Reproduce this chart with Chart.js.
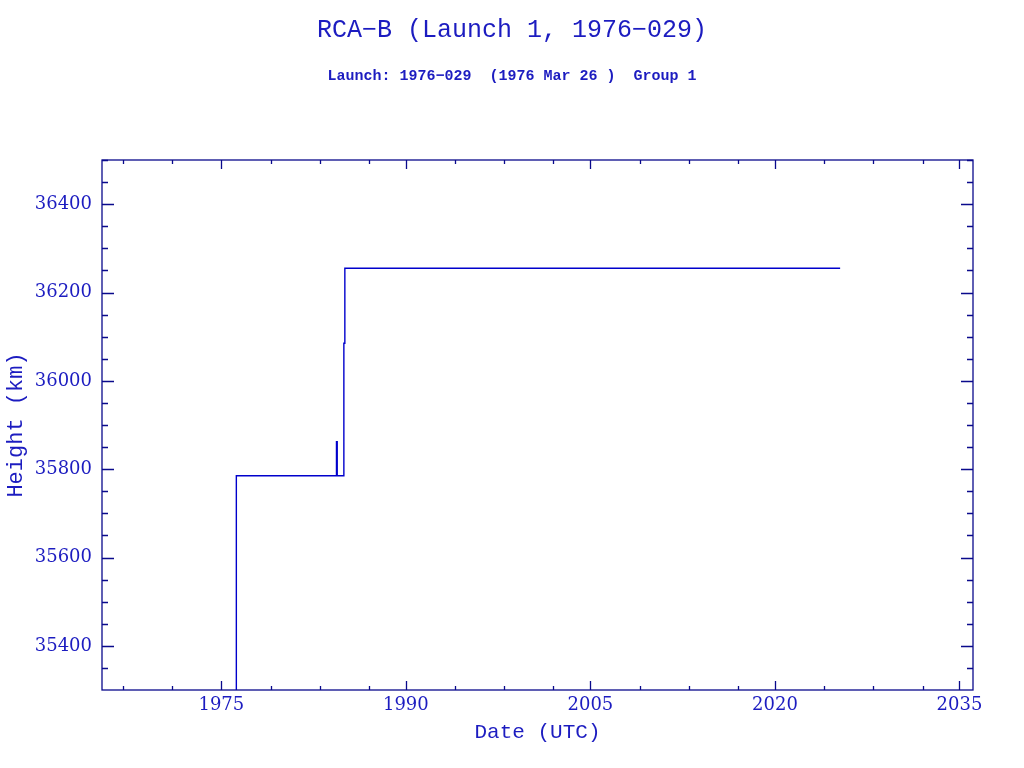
<!DOCTYPE html>
<html>
<head>
<meta charset="utf-8">
<script src="https://cdn.jsdelivr.net/npm/chart.js@4"></script>
<style>
  body { margin: 0; background: #fff; }
  #wrap { width: 1024px; height: 768px; }
</style>
</head>
<body>
<div id="wrap"><canvas id="grafico" width="1024" height="768"></canvas></div>
<script>
// Datos (fecha en años decimales, altura en km)
var fechas  = [1976.22, 1976.22, 1984.36, 1984.36, 1984.42, 1984.42, 1984.96, 1984.96, 1985.04, 1985.04, 2025.3];
var alturas = [35000,   35785,   35785,   35862,   35862,   35785,   35785,   36085,   36085,   36255,   36255];

// Marcas de los ejes
var ticksX = [1975, 1990, 2005, 2020, 2035];
var menoresX = [1967, 1971, 1979, 1983, 1987, 1994, 1998, 2002, 2009, 2013, 2017, 2024, 2028, 2032];
var ticksY = [35400, 35600, 35800, 36000, 36200, 36400];
var menoresY = [35300, 35350, 35450, 35500, 35550, 35650, 35700, 35750, 35850, 35900, 35950,
                36050, 36100, 36150, 36250, 36300, 36350, 36450, 36500];

var colorEje = "#0a0a8c";
var colorTexto = "#1c1cc0";
var colorLinea = "#0000cc";

var puntos = fechas.map(function(f, i) { return { x: f, y: alturas[i] }; });

// Marcas hacia dentro en los cuatro lados
var marcasPlugin = {
  id: "marcas",
  afterDraw: function(chart) {
    var ctx = chart.ctx;
    var a = chart.chartArea;
    var sx = chart.scales.x, sy = chart.scales.y;
    ctx.save();
    ctx.strokeStyle = colorEje;
    ctx.lineWidth = 1.3;
    ctx.strokeRect(a.left, a.top, a.right - a.left, a.bottom - a.top);
    ctx.beginPath();
    function marcaX(v, largo) {
      var px = Math.round(sx.getPixelForValue(v)) + 0.5;
      if (px < a.left || px > a.right) return;
      ctx.moveTo(px, a.bottom); ctx.lineTo(px, a.bottom - largo);
      ctx.moveTo(px, a.top); ctx.lineTo(px, a.top + largo);
    }
    function marcaY(v, largo) {
      var py = Math.round(sy.getPixelForValue(v)) + 0.5;
      if (py < a.top || py > a.bottom) return;
      ctx.moveTo(a.left, py); ctx.lineTo(a.left + largo, py);
      ctx.moveTo(a.right, py); ctx.lineTo(a.right - largo, py);
    }
    ticksX.forEach(function(v) { marcaX(v, 9); });
    menoresX.forEach(function(v) { marcaX(v, 4); });
    ticksY.forEach(function(v) { marcaY(v, 12); });
    menoresY.forEach(function(v) { marcaY(v, 6); });
    ctx.stroke();
    ctx.restore();
  }
};

var ctx = document.getElementById("grafico").getContext("2d");
var miGrafico = new Chart(ctx, {
  type: "line",
  data: {
    datasets: [{
      data: puntos,
      borderColor: colorLinea,
      borderWidth: 1.4,
      pointRadius: 0,
      tension: 0,
      fill: false
    }]
  },
  options: {
    responsive: false,
    animation: false,
    events: [],
    layout: { padding: 0 },
    plugins: {
      legend: { display: false },
      tooltip: { enabled: false },
      title: {
        display: true,
        text: "RCA\u2212B (Launch 1, 1976\u2212029)",
        color: colorTexto,
        font: { family: "Liberation Mono", size: 25, weight: "normal" },
        padding: { top: 15, bottom: 22 }
      },
      subtitle: {
        display: true,
        text: "Launch: 1976\u2212029  (1976 Mar 26 )  Group 1",
        color: colorTexto,
        font: { family: "Liberation Mono", size: 15, weight: "bold" },
        padding: { top: 0, bottom: 75 }
      }
    },
    scales: {
      x: {
        type: "linear",
        min: 1965.3,
        max: 2036.1,
        afterBuildTicks: function(scale) {
          scale.ticks = ticksX.map(function(v) { return { value: v }; });
        },
        afterFit: function(scale) { scale.height = 78; },
        grid: { display: false, drawTicks: false },
        border: { display: false },
        ticks: {
          color: colorTexto,
          padding: 5,
          maxRotation: 0,
          font: { family: "DejaVu Serif", size: 18 },
          callback: function(v) { return String(v); }
        },
        title: {
          display: true,
          text: "Date (UTC)",
          color: colorTexto,
          font: { family: "Liberation Mono", size: 21 },
          padding: { top: 0, bottom: 23 }
        }
      },
      y: {
        type: "linear",
        min: 35300,
        max: 36500,
        afterBuildTicks: function(scale) {
          scale.ticks = ticksY.map(function(v) { return { value: v }; });
        },
        afterFit: function(scale) { scale.width = 102; },
        grid: { display: false, drawTicks: false },
        border: { display: false },
        ticks: {
          color: colorTexto,
          padding: 10,
          font: { family: "DejaVu Serif", size: 18 },
          callback: function(v) { return String(v); }
        },
        title: {
          display: true,
          text: "Height (km)",
          color: colorTexto,
          font: { family: "Liberation Mono", size: 22 },
          padding: { top: 3, bottom: 0 }
        }
      },
      // eje vacío a la derecha para dejar el margen
      margen: {
        type: "linear",
        position: "right",
        grid: { display: false, drawTicks: false },
        border: { display: false },
        ticks: { display: false },
        afterFit: function(scale) { scale.width = 51; }
      }
    }
  },
  plugins: [marcasPlugin]
});
</script>
</body>
</html>
